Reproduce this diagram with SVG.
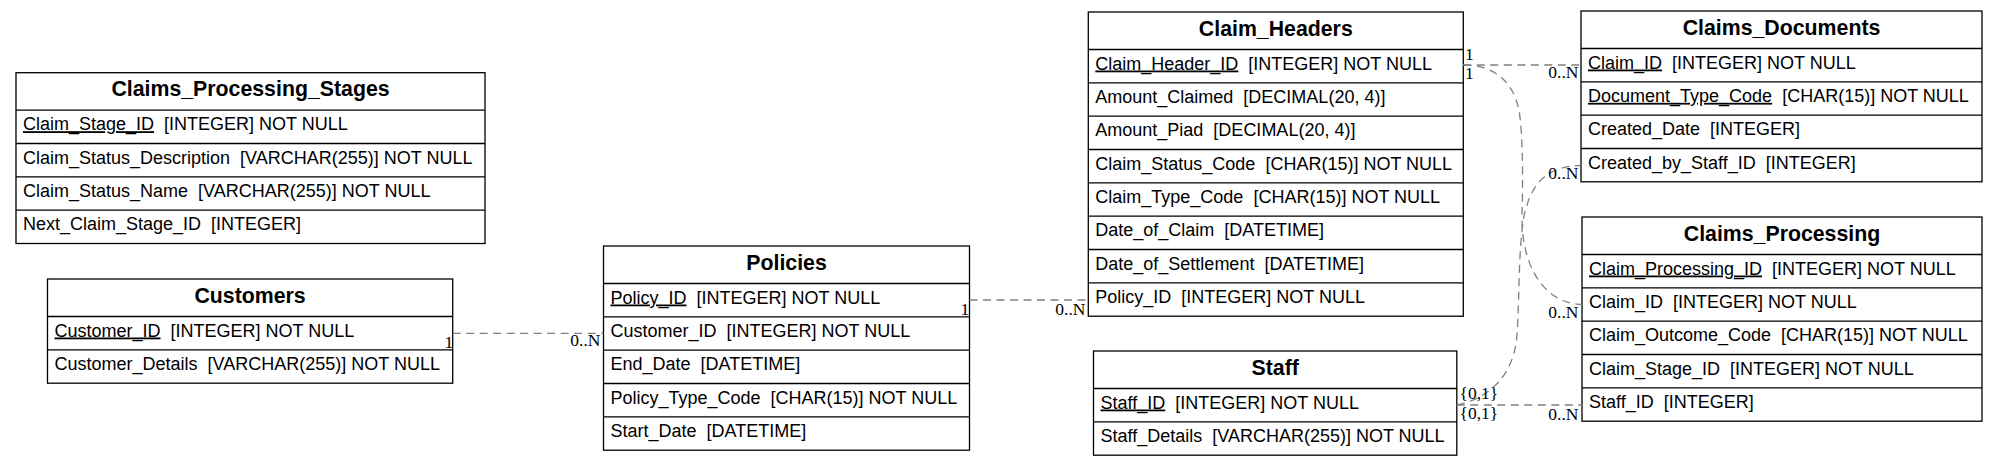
<svg xmlns="http://www.w3.org/2000/svg" width="1997" height="465" viewBox="0 0 1997 465">
<style>
.box{fill:#fff;stroke:#000;stroke-width:1.3}
.ln{stroke:#000;stroke-width:1.3}
.hdr{font-family:"Liberation Sans",Arial,Helvetica,sans-serif;font-weight:bold;font-size:21.3px;text-anchor:middle;fill:#000}
.row{font-family:"Liberation Sans",Arial,Helvetica,sans-serif;font-size:18px;fill:#000;white-space:pre}
.pk{text-decoration:underline}
.edge{fill:none;stroke:#808080;stroke-width:1.3;stroke-dasharray:8,5.5}
.lbl{font-family:"Liberation Serif","Times New Roman",serif;font-size:17.5px;fill:#000}
.end{text-anchor:end}
</style>
<g id="Claims_Processing_Stages">
<rect class="box" x="16" y="72.7" width="469" height="170.8"/>
<path class="ln" d="M16,110.2H485M16,143.5H485M16,176.9H485M16,210.2H485"/>
<text class="hdr" x="250.5" y="96.2">Claims_Processing_Stages</text>
<text class="row" x="23" y="130.2"><tspan class="pk">Claim_Stage_ID</tspan>&#160; [INTEGER] NOT NULL</text>
<text class="row" x="23" y="163.5">Claim_Status_Description&#160; [VARCHAR(255)] NOT NULL</text>
<text class="row" x="23" y="196.9">Claim_Status_Name&#160; [VARCHAR(255)] NOT NULL</text>
<text class="row" x="23" y="230.2">Next_Claim_Stage_ID&#160; [INTEGER]</text>
</g>
<g id="Customers">
<rect class="box" x="47.5" y="279" width="405.2" height="104.2"/>
<path class="ln" d="M47.5,316.5H452.7M47.5,349.8H452.7"/>
<text class="hdr" x="250.1" y="302.5">Customers</text>
<text class="row" x="54.5" y="336.5"><tspan class="pk">Customer_ID</tspan>&#160; [INTEGER] NOT NULL</text>
<text class="row" x="54.5" y="369.8">Customer_Details&#160; [VARCHAR(255)] NOT NULL</text>
</g>
<g id="Policies">
<rect class="box" x="603.5" y="246" width="366" height="204.2"/>
<path class="ln" d="M603.5,283.5H969.5M603.5,316.8H969.5M603.5,350.2H969.5M603.5,383.5H969.5M603.5,416.8H969.5"/>
<text class="hdr" x="786.5" y="269.5">Policies</text>
<text class="row" x="610.5" y="303.5"><tspan class="pk">Policy_ID</tspan>&#160; [INTEGER] NOT NULL</text>
<text class="row" x="610.5" y="336.8">Customer_ID&#160; [INTEGER] NOT NULL</text>
<text class="row" x="610.5" y="370.2">End_Date&#160; [DATETIME]</text>
<text class="row" x="610.5" y="403.5">Policy_Type_Code&#160; [CHAR(15)] NOT NULL</text>
<text class="row" x="610.5" y="436.8">Start_Date&#160; [DATETIME]</text>
</g>
<g id="Claim_Headers">
<rect class="box" x="1088.3" y="12" width="375" height="304.2"/>
<path class="ln" d="M1088.3,49.5H1463.3M1088.3,82.8H1463.3M1088.3,116.2H1463.3M1088.3,149.5H1463.3M1088.3,182.8H1463.3M1088.3,216.2H1463.3M1088.3,249.5H1463.3M1088.3,282.8H1463.3"/>
<text class="hdr" x="1275.8" y="35.5">Claim_Headers</text>
<text class="row" x="1095.3" y="69.5"><tspan class="pk">Claim_Header_ID</tspan>&#160; [INTEGER] NOT NULL</text>
<text class="row" x="1095.3" y="102.8">Amount_Claimed&#160; [DECIMAL(20, 4)]</text>
<text class="row" x="1095.3" y="136.2">Amount_Piad&#160; [DECIMAL(20, 4)]</text>
<text class="row" x="1095.3" y="169.5">Claim_Status_Code&#160; [CHAR(15)] NOT NULL</text>
<text class="row" x="1095.3" y="202.8">Claim_Type_Code&#160; [CHAR(15)] NOT NULL</text>
<text class="row" x="1095.3" y="236.2">Date_of_Claim&#160; [DATETIME]</text>
<text class="row" x="1095.3" y="269.5">Date_of_Settlement&#160; [DATETIME]</text>
<text class="row" x="1095.3" y="302.8">Policy_ID&#160; [INTEGER] NOT NULL</text>
</g>
<g id="Staff">
<rect class="box" x="1093.5" y="351" width="363.3" height="104.2"/>
<path class="ln" d="M1093.5,388.5H1456.8M1093.5,421.8H1456.8"/>
<text class="hdr" x="1275.2" y="374.5">Staff</text>
<text class="row" x="1100.5" y="408.5"><tspan class="pk">Staff_ID</tspan>&#160; [INTEGER] NOT NULL</text>
<text class="row" x="1100.5" y="441.8">Staff_Details&#160; [VARCHAR(255)] NOT NULL</text>
</g>
<g id="Claims_Documents">
<rect class="box" x="1581" y="11" width="401" height="170.8"/>
<path class="ln" d="M1581,48.5H1982M1581,81.8H1982M1581,115.2H1982M1581,148.5H1982"/>
<text class="hdr" x="1781.5" y="34.5">Claims_Documents</text>
<text class="row" x="1588" y="68.5"><tspan class="pk">Claim_ID</tspan>&#160; [INTEGER] NOT NULL</text>
<text class="row" x="1588" y="101.8"><tspan class="pk">Document_Type_Code</tspan>&#160; [CHAR(15)] NOT NULL</text>
<text class="row" x="1588" y="135.2">Created_Date&#160; [INTEGER]</text>
<text class="row" x="1588" y="168.5">Created_by_Staff_ID&#160; [INTEGER]</text>
</g>
<g id="Claims_Processing">
<rect class="box" x="1582" y="217" width="400" height="204.2"/>
<path class="ln" d="M1582,254.5H1982M1582,287.8H1982M1582,321.2H1982M1582,354.5H1982M1582,387.8H1982"/>
<text class="hdr" x="1782" y="240.5">Claims_Processing</text>
<text class="row" x="1589" y="274.5"><tspan class="pk">Claim_Processing_ID</tspan>&#160; [INTEGER] NOT NULL</text>
<text class="row" x="1589" y="307.8">Claim_ID&#160; [INTEGER] NOT NULL</text>
<text class="row" x="1589" y="341.2">Claim_Outcome_Code&#160; [CHAR(15)] NOT NULL</text>
<text class="row" x="1589" y="374.5">Claim_Stage_ID&#160; [INTEGER] NOT NULL</text>
<text class="row" x="1589" y="407.8">Staff_ID&#160; [INTEGER]</text>
</g>
<g id="connectors">
<path class="edge" d="M452.7,333.3 L603.5,333.3"/>
<path class="edge" d="M969.5,300 L1088.3,300"/>
<path class="edge" d="M1463.3,65 L1581,65"/>
<path class="edge" d="M1463.3,65 C1495,65 1513,82 1519,110 C1523,135 1523,180 1522,215 C1521,260 1540,303 1582,304.5"/>
<path class="edge" d="M1456.8,405 C1490,398 1514,375 1517,335 C1520,290 1518,230 1527,205 C1535,180 1550,166 1581,165.5"/>
<path class="edge" d="M1456.8,405 L1582,405"/>
<text class="lbl" x="444.5" y="348">1</text>
<text class="lbl end" x="600.5" y="346">0..N</text>
<text class="lbl" x="960.5" y="315">1</text>
<text class="lbl end" x="1085.5" y="315">0..N</text>
<text class="lbl" x="1465" y="60">1</text>
<text class="lbl end" x="1578.5" y="78">0..N</text>
<text class="lbl" x="1465" y="79">1</text>
<text class="lbl end" x="1578.5" y="318">0..N</text>
<text class="lbl" x="1459.5" y="398.5">{0,1}</text>
<text class="lbl end" x="1578.5" y="178.5">0..N</text>
<text class="lbl" x="1459.5" y="418.5">{0,1}</text>
<text class="lbl end" x="1578.5" y="420">0..N</text>
</g>
</svg>
